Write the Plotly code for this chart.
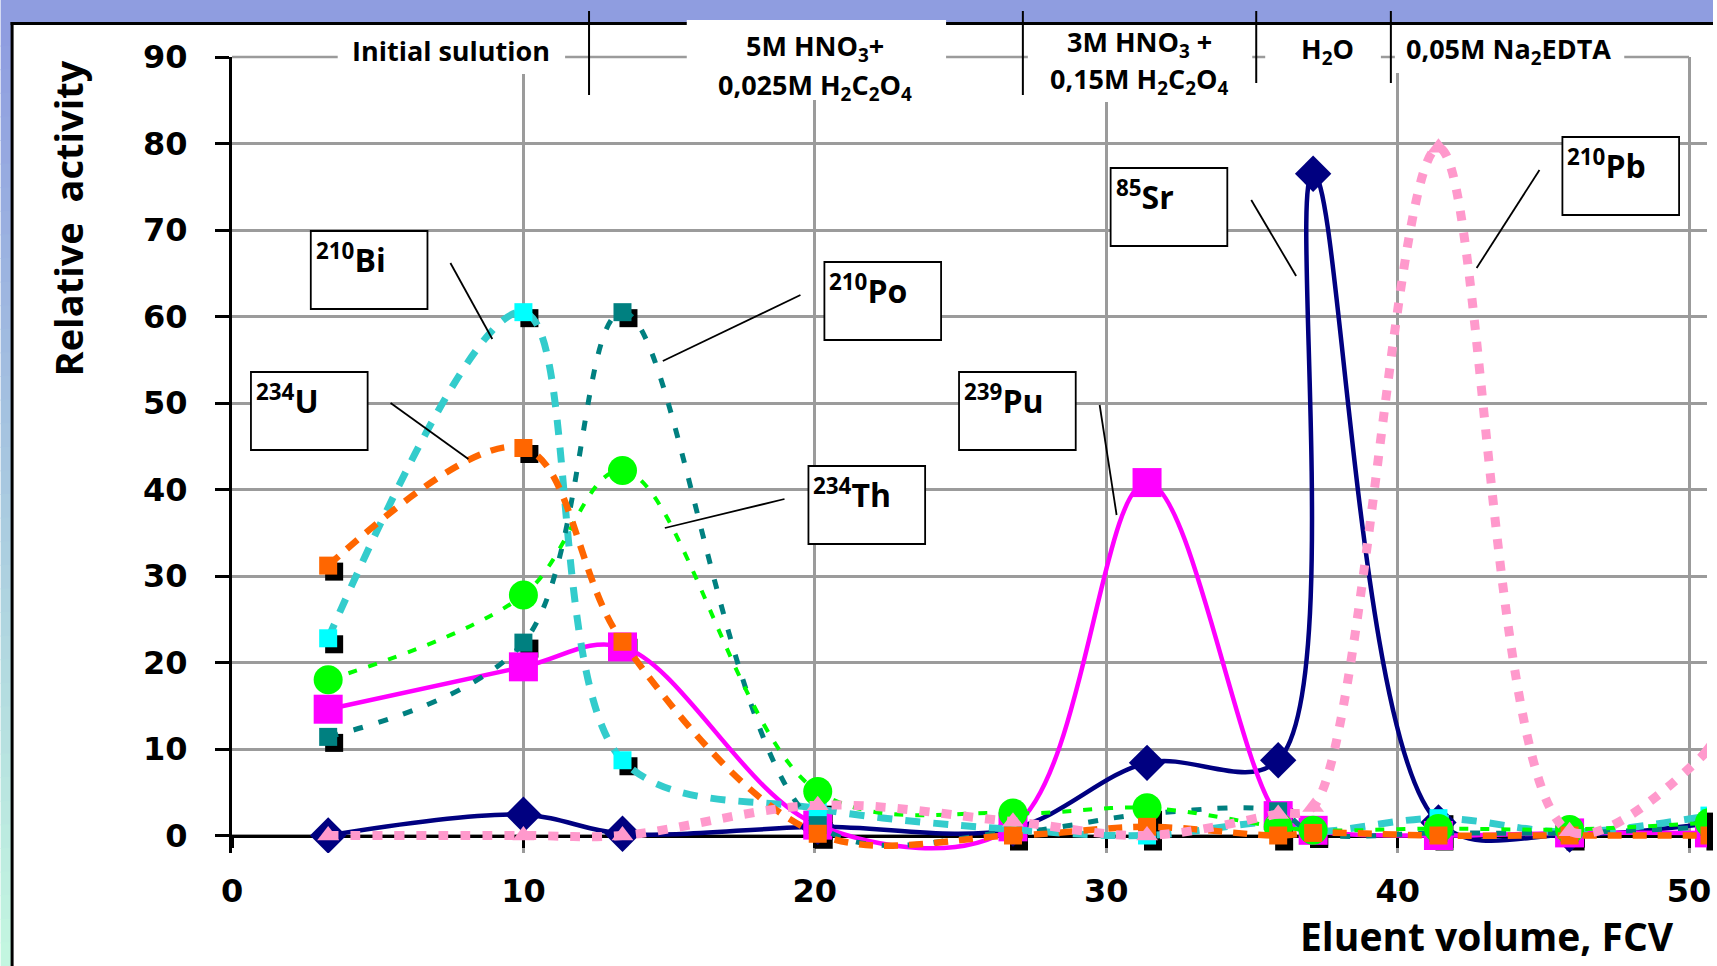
import plotly.graph_objects as go

# ---------------------------------------------------------------- data
# eluent volume (FCV) of each collected fraction
fcv = [3.3, 10.0, 13.4, 20.1, 26.8, 31.4, 35.9, 37.1, 41.4, 45.9, 50.7]

# relative activity of each nuclide in the fractions
u234 = [31.2, 44.8, 22.4, 0.2, 0.0, 1.0, 0.0, 0.3, 0.0, 0.0, 0.0]
bi210 = [22.8, 60.5, 8.7, 3.1, 0.7, 0.0, 1.5, 0.5, 2.0, 0.4, 2.3]
po210 = [11.4, 22.3, 60.5, 1.2, 0.4, 2.5, 2.8, 0.3, 0.3, 0.3, 1.0]
th234 = [18.0, 27.8, 42.2, 5.1, 2.6, 3.2, 1.0, 0.6, 0.8, 0.7, 1.5]
pu239 = [14.6, 19.5, 21.8, 1.2, 1.0, 40.8, 2.3, 0.6, 0.0, 0.3, 0.3]
sr85 = [0.0, 2.4, 0.2, 1.0, 0.8, 8.4, 8.7, 76.5, 1.5, 0.1, 1.4]
pb210 = [0.0, 0.0, 0.0, 3.5, 1.6, 0.0, 2.5, 3.3, 79.5, 0.5, 10.0]

x_tick_vals = [0, 10, 20, 30, 40, 50]
y_tick_vals = [0, 10, 20, 30, 40, 50, 60, 70, 80, 90]

# ------------------------------------------------------------ geometry
FIG_W, FIG_H = 1717, 966
M_L, M_T, M_B = 232, 57, 107
PLOT_W = FIG_W - M_L
PLOT_H = FIG_H - M_T - M_B
SHADOW = 6            # px offset of the marker shadows
X_SCALE = 29.22       # px per FCV
Y_SCALE = 8.65        # px per activity unit
Y_TOP = 90

x_range = [0, (PLOT_W - SHADOW) / X_SCALE]
y_range = [Y_TOP - (PLOT_H - SHADOW) / Y_SCALE, Y_TOP]
dx = SHADOW / PLOT_W
dy = SHADOW / PLOT_H
zero_pos = dy + (0 - y_range[0]) / (y_range[1] - y_range[0]) * (1 - dy)


def px(xp):
    return (xp - M_L) / PLOT_W


def py(yp):
    return (FIG_H - M_B - yp) / PLOT_H


GRID = "#9B9B9B"
TXT = "Open Sans"
NUM = "DejaVu Sans"

# name, values, line colour, width, dash, symbol, marker colour, size, shadow
series = [
    ("85Sr", sr85, "#000080", 4.5, "solid", "diamond", "#000080", 28, False),
    ("239Pu", pu239, "#FF00FF", 4.5, "solid", "square", "#FF00FF", 29, False),
    ("210Bi", bi210, "#33CCCC", 7, "15px,13px", "square", "#00FFFF", 18, True),
    ("210Po", po210, "#008080", 5, "10px,16px", "square", "#008080", 18, True),
    ("234Th", th234, "#00FF00", 4, "9px,12px", "circle", "#00FF00", 29, False),
    ("234U", u234, "#FF6600", 6.5, "14px,11px", "square", "#FF6600", 18, True),
    ("210Pb", pb210, "#FF99CC", 9, "10px,12px", "triangle-up", "#FF99CC", 19, False),
]

fig = go.Figure()

# empty trace keeps the visible axes subplot alive
fig.add_trace(go.Scatter(x=[], y=[], xaxis="x", yaxis="y", showlegend=False))

# black drop shadows behind the small square markers
for name, vals, lc, lw, dash, sym, mc, ms, shadow in series:
    if shadow:
        fig.add_trace(go.Scatter(
            x=fcv, y=vals, xaxis="x2", yaxis="y2", mode="markers",
            marker=dict(symbol="square", color="black", size=ms, line=dict(width=0)),
            showlegend=False, hoverinfo="skip"))

for name, vals, lc, lw, dash, sym, mc, ms, shadow in series:
    fig.add_trace(go.Scatter(
        x=fcv, y=vals, xaxis="x3", yaxis="y3", mode="lines+markers", name=name,
        line=dict(color=lc, width=lw, dash=dash, shape="spline", smoothing=1.0),
        marker=dict(symbol=sym, color=mc, size=ms, line=dict(width=0)),
        showlegend=False))

tick_font = dict(family=NUM, size=32, color="black", weight="bold")

hidden = dict(visible=False, showgrid=False, zeroline=False)

fig.update_layout(
    width=FIG_W, height=FIG_H,
    margin=dict(l=M_L, r=0, t=M_T, b=M_B, pad=0),
    paper_bgcolor="white", plot_bgcolor="rgba(0,0,0,0)",
    showlegend=False,
    xaxis=dict(
        range=x_range, domain=[0, 1 - dx], anchor="free", position=zero_pos,
        tickvals=x_tick_vals, ticks="outside", ticklen=10, tickwidth=3,
        tickcolor="black", showline=True, linecolor="black", linewidth=3,
        showgrid=True, gridcolor=GRID, gridwidth=2.5, zeroline=False,
        tickfont=tick_font, ticklabelstandoff=16),
    yaxis=dict(
        range=y_range, domain=[dy, 1], anchor="x",
        tickvals=y_tick_vals, ticks="outside", ticklen=14, tickwidth=3,
        tickcolor="black", showline=True, linecolor="black", linewidth=3,
        showgrid=True, gridcolor=GRID, gridwidth=2.5, zeroline=False,
        tickfont=tick_font, ticklabelstandoff=21),
    xaxis2=dict(range=x_range, domain=[dx, 1], anchor="y2", **hidden),
    yaxis2=dict(range=y_range, domain=[0, 1 - dy], anchor="x2", **hidden),
    xaxis3=dict(range=x_range, domain=[0, 1 - dx], anchor="y3", **hidden),
    yaxis3=dict(range=y_range, domain=[dy, 1], anchor="x3", **hidden),
)

shapes = []


def rect(x0, y0, x1, y1, fill, layer="below", line_color=None, line_w=0):
    shapes.append(dict(
        type="rect", xref="paper", yref="paper",
        x0=px(x0), x1=px(x1), y0=py(y0), y1=py(y1),
        fillcolor=fill, layer=layer,
        line=dict(width=line_w, color=line_color or fill)))


def seg(x0, y0, x1, y1, color="black", width=2, layer="above"):
    shapes.append(dict(
        type="line", xref="paper", yref="paper",
        x0=px(x0), x1=px(x1), y0=py(y0), y1=py(y1),
        layer=layer, line=dict(color=color, width=width)))


# slide background: blue band on top, blue-to-mint strip on the left
rect(0, 0, FIG_W, 22, "#8F9DE0")
top_c = (0x8F, 0x9D, 0xE0)
bot_c = (0xC3, 0xF6, 0xE0)
n_steps = 40
step = (FIG_H - 22) / n_steps
for i in range(n_steps):
    t = i / (n_steps - 1)
    c = tuple(round(a + (b - a) * t) for a, b in zip(top_c, bot_c))
    rect(0, 22 + i * step, 11, 22 + (i + 1) * step + 1, "rgb(%d,%d,%d)" % c)
seg(10, 23.5, FIG_W, 23.5, width=3, layer="below")
seg(11.5, 22, 11.5, FIG_H, width=3, layer="below")

# top frame line at 90
seg(M_L, M_T, M_L + 50 * X_SCALE, M_T, color=GRID, width=2.5, layer="below")

# white backgrounds of the eluent labels
for x0, y0, x1, y1 in [(338, 32, 566, 74), (688, 20, 948, 100),
                       (1030, 27, 1255, 102), (1268, 32, 1384, 72),
                       (1398, 30, 1628, 73)]:
    rect(x0, y0, x1, y1, "white", layer="above")

# separators between eluent stages
for xs, y1 in [(590, 95), (1025, 95), (1259, 83), (1394, 83)]:
    seg(xs, 11, xs, y1, width=2)

# callout boxes and their leader lines
callouts = [
    ("<sup>210</sup>Bi", (311, 231), (451, 263, 493, 339)),
    ("<sup>234</sup>U", (251, 372), (391, 403, 469, 459)),
    ("<sup>210</sup>Po", (826, 262), (802, 295, 664, 361)),
    ("<sup>234</sup>Th", (810, 466), (786, 499, 666, 528)),
    ("<sup>239</sup>Pu", (961, 372), (1102, 405, 1119, 515)),
    ("<sup>85</sup>Sr", (1113, 168), (1254, 200, 1299, 276)),
    ("<sup>210</sup>Pb", (1566, 137), (1543, 170, 1480, 268)),
]
BOX_W, BOX_H = 117, 78
annotations = []
for text, (bx, by), (lx0, ly0, lx1, ly1) in callouts:
    rect(bx, by, bx + BOX_W, by + BOX_H, "white", layer="above",
         line_color="black", line_w=1.8)
    seg(lx0, ly0, lx1, ly1, width=1.8)
    annotations.append(dict(
        xref="paper", yref="paper", x=px(bx + 3), y=py(by + 2),
        xanchor="left", yanchor="top", text=text, showarrow=False,
        font=dict(family=TXT, size=32, color="black", weight="bold")))

# eluent stage labels along the top
head_font = dict(family=TXT, size=27, color="black", weight="bold")
for text, cx, cy in [
    ("Initial sulution", 452, 51),
    ("5M HNO<sub>3</sub>+", 817, 47),
    ("0,025M H<sub>2</sub>C<sub>2</sub>O<sub>4</sub>", 817, 86),
    ("3M HNO<sub>3</sub> +", 1142, 43),
    ("0,15M H<sub>2</sub>C<sub>2</sub>O<sub>4</sub>", 1142, 80),
    ("H<sub>2</sub>O", 1330, 51),
    ("0,05M Na<sub>2</sub>EDTA", 1512, 51),
]:
    annotations.append(dict(
        xref="paper", yref="paper", x=px(cx), y=py(cy),
        xanchor="center", yanchor="middle", text=text, showarrow=False,
        font=head_font))

# axis titles
annotations.append(dict(
    xref="paper", yref="paper", x=px(68), y=py(218), text="Relative  activity",
    textangle=-90, showarrow=False, xanchor="center", yanchor="middle",
    font=dict(family=TXT, size=38, color="black", weight="bold")))
annotations.append(dict(
    xref="paper", yref="paper", x=px(1490), y=py(935), text="Eluent volume, FCV",
    showarrow=False, xanchor="center", yanchor="middle",
    font=dict(family=TXT, size=39, color="black", weight="bold")))

fig.update_layout(shapes=shapes, annotations=annotations)

fig.write_html("out.html")
